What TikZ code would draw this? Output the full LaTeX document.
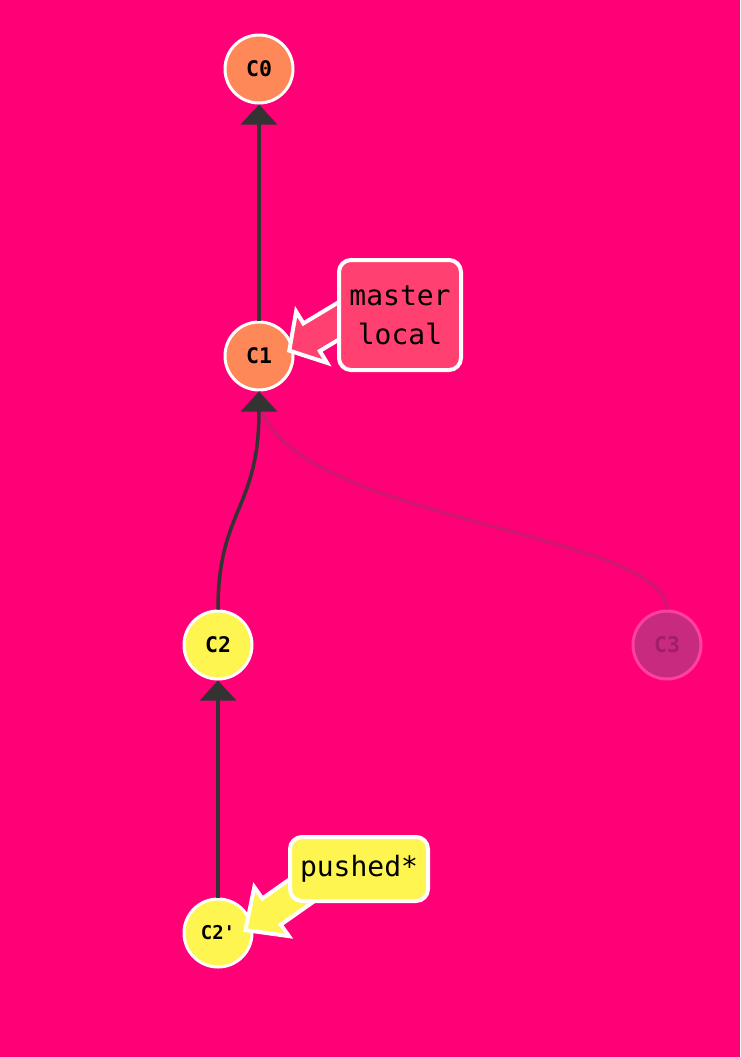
\documentclass[tikz,border=0pt]{standalone}
\usepackage{fontspec}
\setmonofont{DejaVu Sans Mono}
\usetikzlibrary{arrows.meta}
\definecolor{bg}{RGB}{255,0,119}
\definecolor{coral}{RGB}{255,136,88}
\definecolor{yel}{RGB}{255,245,80}
\definecolor{edgegray}{RGB}{51,51,51}
\definecolor{fadeline}{RGB}{208,22,110}
\definecolor{fadefill}{RGB}{200,42,128}
\definecolor{fadedraw}{RGB}{255,64,160}
\definecolor{fadetext}{RGB}{160,30,105}
\definecolor{tagred}{RGB}{255,64,112}
\begin{document}
\begin{tikzpicture}[x=1pt,y=-1pt,
  commit/.style={circle, draw=white, line width=3pt, minimum size=68pt, inner sep=0pt,
    font=\ttfamily\bfseries\fontsize{21.5}{21.5}\selectfont},
  link/.style={draw=edgegray, line width=3.5pt, -{Triangle[width=36pt,length=20pt]}},
  fadelink/.style={draw=fadeline, line width=3.5pt},
  tagbox/.style={draw=white, line width=4pt, rounded corners=12pt, inner sep=0pt,
    align=center, font=\ttfamily\fontsize{28}{39}\selectfont},
  tagarrow/.style={draw=white, line width=4pt, line join=miter}
]
\fill[bg] (0,0) rectangle (740,1057);
\useasboundingbox (0,0) rectangle (740,1057);

% commits
\node[commit, fill=coral] (c0) at (259,69) {C0};
\node[commit, fill=coral] (c1) at (259,356) {C1};
\node[commit, fill=yel] (c2) at (218,645) {C2};
\node[commit, fill=yel, font=\ttfamily\bfseries\fontsize{19}{19}\selectfont] (c2p) at (218,933) {C2'};
\node[commit, fill=fadefill, draw=fadedraw, text=fadetext] (c3) at (667,645) {C3};

% links
\draw[fadelink] (c3.north) .. controls +(0,-81) and +(0,128) .. (c1.south);
\draw[link] (c1) -- (c0);
\draw[link] (c2.north) .. controls +(0,-100) and +(0,118) .. (c1.south);
\draw[link] (c2p) -- (c2);

% master/local tag
\fill[tagred, tagarrow] (289.3,350.6) -- (327.1,362.9) -- (319.8,351.0) -- (383.2,312.9)
  -- (366.8,285.3) -- (303.4,323.4) -- (296.1,311.5) -- cycle;
\node[tagbox, fill=tagred, minimum width=122pt, minimum height=110pt] (master) at (400,315) {master\\local};

% pushed* tag
\fill[yel, tagarrow] (245.5,930.1) -- (288.9,936.1) -- (280.8,924.7) -- (336.4,885.5)
  -- (318.0,859.3) -- (262.4,898.5) -- (254.3,887.1) -- cycle;
\node[tagbox, fill=yel, minimum width=138pt, minimum height=64pt] (pushed) at (359,869) {pushed*};
\end{tikzpicture}
\end{document}
